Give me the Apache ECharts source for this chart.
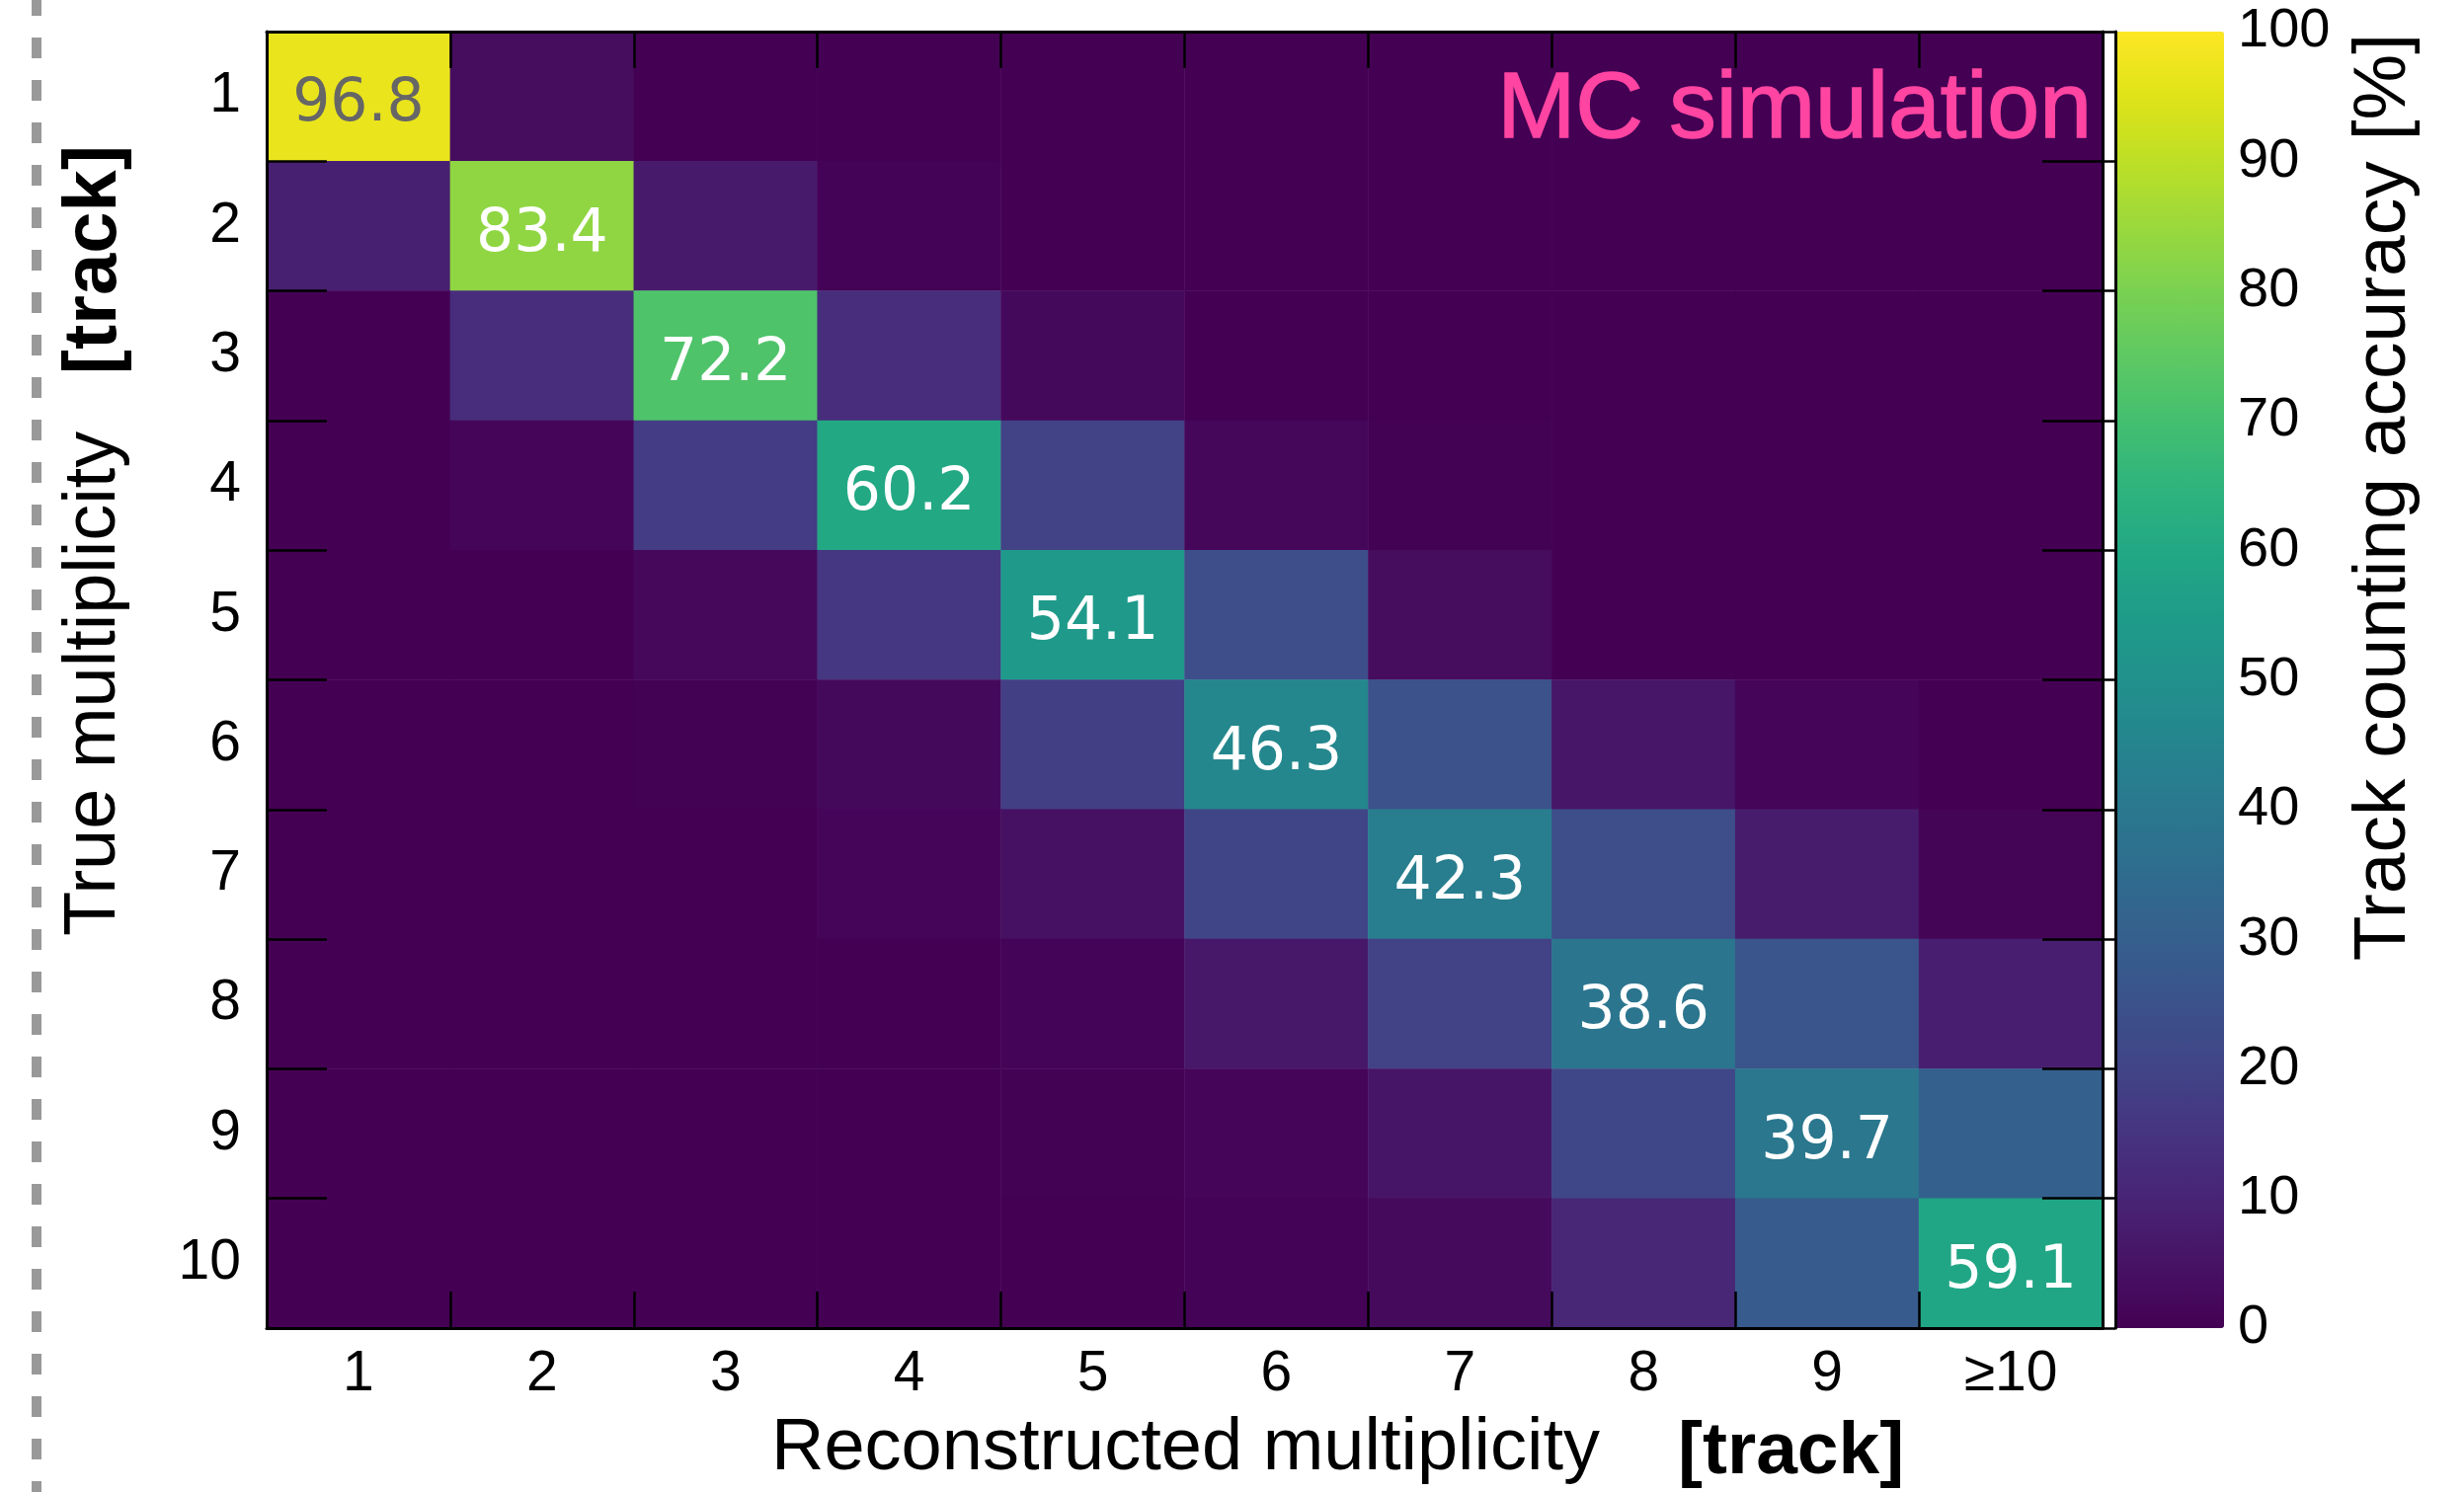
<!DOCTYPE html>
<html><head><meta charset="utf-8">
<script src="https://cdn.jsdelivr.net/npm/echarts@6/dist/echarts.min.js"></script>
<style>html,body{margin:0;padding:0;background:#fff}#chart{width:2495px;height:1511px}</style>
</head><body><div id="chart"></div>
<script>
// ---- data ----
const recoCategories = ['1','2','3','4','5','6','7','8','9','≥10'];
const trueCategories = ['1','2','3','4','5','6','7','8','9','10'];
const true1  = [96.8, 3.2, 0, 0, 0, 0, 0, 0, 0, 0];
const true2  = [8.8, 83.4, 7.2, 0.6, 0, 0, 0, 0, 0, 0];
const true3  = [0, 12.8, 72.2, 12.9, 2.1, 0, 0, 0, 0, 0];
const true4  = [0, 1.5, 17.5, 60.2, 19.3, 1.8, 0.3, 0, 0, 0];
const true5  = [0, 0, 2.0, 16.0, 54.1, 23.5, 3.0, 0, 0, 0];
const true6  = [0, 0, 0.3, 2.3, 18.5, 46.3, 25.0, 6.0, 1.2, 0];
const true7  = [0, 0, 0, 1.2, 4.5, 20.5, 42.3, 23.5, 7.5, 1.0];
const true8  = [0, 0, 0, 0, 0.8, 6.5, 19.5, 38.6, 26.0, 8.5];
const true9  = [0, 0, 0, 0, 0.3, 1.5, 5.5, 21.0, 39.7, 30.5];
const true10 = [0, 0, 0, 0, 0, 0.5, 2.5, 11.0, 28.5, 59.1];
const colorbarTicks = [0, 100, 10]; // min, max, interval
const rows = [true1, true2, true3, true4, true5, true6, true7, true8, true9, true10];

// ---- build series data ----
const cells = [];
rows.forEach((row, yi) => {
  row.forEach((v, xi) => {
    const diag = xi === yi;
    cells.push({
      value: [xi, yi, v],
      label: { show: diag, color: yi === 0 ? '#666666' : '#ffffff' }
    });
  });
});

const viridis = ['#440154','#471365','#482475','#463480','#414487','#3b528b','#355f8d','#2f6c8e',
  '#2a788e','#25848e','#21918c','#1e9c89','#22a884','#2fb47c','#44bf70','#5ec962','#7ad151',
  '#9bd93c','#bddf26','#dfe318','#fde725'];

const FONT = 'Liberation Sans, Arial, Helvetica, sans-serif';
const PL = 270, PT = 32, PW = 1859, PH = 1313;
const axisLineStyle = { show: true, lineStyle: { color: '#000', width: 3 } };

const chart = echarts.init(document.getElementById('chart'), null, { renderer: 'canvas' });
chart.setOption({
  backgroundColor: '#ffffff',
  animation: false,
  grid: [
    { left: PL, top: PT, width: PW, height: PH, containLabel: false, outerBoundsMode: 'none' },
    { left: 2142, top: PT, width: 110, height: PH, containLabel: false, outerBoundsMode: 'none' }
  ],
  xAxis: [
    { type: 'category', data: recoCategories, gridIndex: 0, position: 'bottom', z: 10,
      axisLine: axisLineStyle,
      axisTick: { show: true, inside: true, length: 37, lineStyle: { color: '#000', width: 2.5 } },
      axisLabel: { margin: 19, fontSize: 57, color: '#000', fontFamily: FONT },
      splitLine: { show: false } },
    { type: 'category', data: recoCategories, gridIndex: 0, position: 'top', z: 10,
      axisLine: axisLineStyle,
      axisTick: { show: true, inside: true, length: 37, lineStyle: { color: '#000', width: 2.5 } },
      axisLabel: { show: false }, splitLine: { show: false } },
    { type: 'value', gridIndex: 1, show: false, min: 0, max: 1 }
  ],
  yAxis: [
    { type: 'category', data: trueCategories, gridIndex: 0, inverse: true, position: 'left', z: 10,
      axisLine: axisLineStyle,
      axisTick: { show: true, inside: true, length: 61, lineStyle: { color: '#000', width: 2.5 } },
      axisLabel: { margin: 26, fontSize: 57, color: '#000', fontFamily: FONT },
      splitLine: { show: false } },
    { type: 'category', data: trueCategories, gridIndex: 0, inverse: true, position: 'right', z: 10,
      axisLine: axisLineStyle,
      axisTick: { show: true, inside: true, length: 61, lineStyle: { color: '#000', width: 2.5 } },
      axisLabel: { show: false }, splitLine: { show: false } },
    { type: 'value', gridIndex: 1, position: 'right', z: 10,
      min: colorbarTicks[0], max: colorbarTicks[1], interval: colorbarTicks[2],
      axisLine: { show: true, lineStyle: { color: '#000', width: 3 } },
      axisTick: { show: true, inside: true, length: 60, lineStyle: { color: '#000', width: 2.5 } },
      axisLabel: { margin: 14, fontSize: 56, color: '#000', fontFamily: FONT, showMinLabel: true, showMaxLabel: true },
      splitLine: { show: false } }
  ],
  visualMap: {
    type: 'continuous', min: colorbarTicks[0], max: colorbarTicks[1], dimension: 2, seriesIndex: 0,
    calculable: false, orient: 'vertical', left: 2142, top: PT, padding: 0,
    itemWidth: 110, itemHeight: PH, text: null, showLabel: false, hoverLink: false,
    inRange: { color: viridis }
  },
  series: [{
    type: 'heatmap', xAxisIndex: 0, yAxisIndex: 0, data: cells,
    label: { show: false, fontSize: 60, fontFamily: 'DejaVu Sans, sans-serif',
      formatter: p => p.value[2].toFixed(1), offset: [0, 9] },
    emphasis: { disabled: true },
    itemStyle: { borderWidth: 0 }
  }],
  graphic: [
    { type: 'line', silent: true, shape: { x1: 37, y1: 0, x2: 37, y2: 1511 },
      style: { stroke: '#999999', lineWidth: 10, lineDash: [21, 22], lineDashOffset: 5 } },
    { type: 'text', x: 2118, y: 113, z: 20, silent: true,
      style: { text: 'MC simulation', fontSize: 95, fontFamily: FONT, fill: '#ff45a1', align: 'right', verticalAlign: 'middle',
        stroke: '#ff45a1', lineWidth: 1.5 } },
    { type: 'text', x: 781, y: 1468, silent: true,
      style: { text: 'Reconstructed multiplicity', fontSize: 74, fontFamily: FONT, fill: '#000', align: 'left', verticalAlign: 'middle' } },
    { type: 'text', x: 1699, y: 1471, silent: true,
      style: { text: '[track]', fontSize: 75, fontWeight: 'bold', fontFamily: FONT, fill: '#000', align: 'left', verticalAlign: 'middle' } },
    { type: 'text', x: 96, y: 948, rotation: Math.PI / 2, silent: true,
      style: { text: 'True multiplicity', fontSize: 74, fontFamily: FONT, fill: '#000', align: 'left', verticalAlign: 'middle' } },
    { type: 'text', x: 96, y: 147, rotation: Math.PI / 2, silent: true,
      style: { text: '[track]', fontSize: 76, fontWeight: 'bold', fontFamily: FONT, fill: '#000', align: 'right', verticalAlign: 'middle' } },
    { type: 'text', x: 2414, y: 34, rotation: Math.PI / 2, silent: true,
      style: { text: 'Track counting accuracy [%]', fontSize: 75, fontFamily: FONT, fill: '#000', align: 'right', verticalAlign: 'middle' } }
  ]
});
</script></body></html>
